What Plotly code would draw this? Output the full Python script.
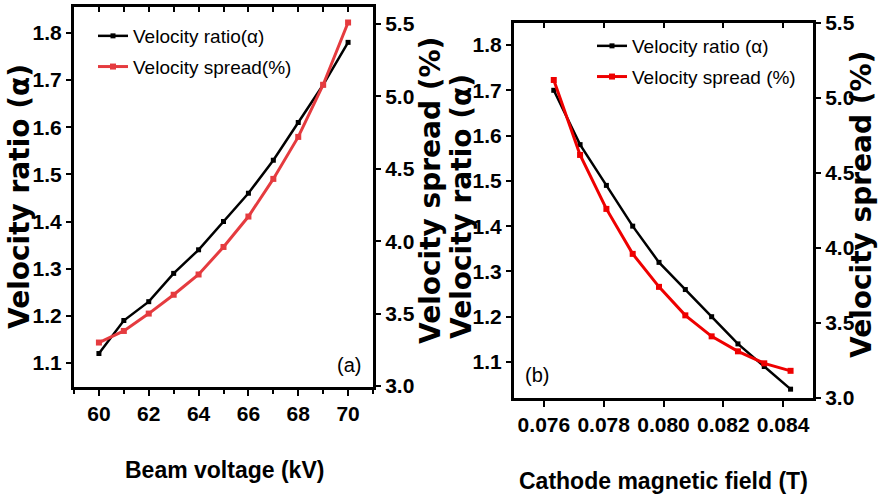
import plotly.graph_objects as go

# ---------------- data ----------------
beam_voltage_kv = [60, 61, 62, 63, 64, 65, 66, 67, 68, 69, 70]
alpha_a = [1.12, 1.19, 1.23, 1.29, 1.34, 1.40, 1.46, 1.53, 1.61, 1.69, 1.78]
spread_a = [3.30, 3.38, 3.50, 3.63, 3.77, 3.96, 4.17, 4.43, 4.72, 5.08, 5.51]

cathode_field_t = [0.07633, 0.07721, 0.07809, 0.07897, 0.07985,
                   0.08073, 0.08161, 0.08249, 0.08337, 0.08425]
alpha_b = [1.70, 1.58, 1.49, 1.40, 1.32, 1.26, 1.20, 1.14, 1.09, 1.04]
spread_b = [5.12, 4.62, 4.26, 3.96, 3.74, 3.55, 3.41, 3.31, 3.23, 3.18]

legend_a = ["Velocity ratio(α)", "Velocity spread(%)"]
legend_b = ["Velocity ratio (α)", "Velocity spread (%)"]
ytitle_left = "Velocity ratio (α)"
ytitle_right = "Velocity spread (%)"
xtitle_a = "Beam voltage (kV)"
xtitle_b = "Cathode magnetic field (T)"

# ---------------- style ----------------
W, H = 879, 501
SANS = "Liberation Sans, Arial, sans-serif"
WIDE = "DejaVu Sans, Liberation Sans, sans-serif"
RED_A = "#e53b3f"
RED_B = "#ee0000"
LW_AX = 3


def px(x):
    return x / W


def py(y):
    return 1 - y / H


dom_xa = [px(74), px(373)]
dom_ya = [py(387), py(7)]
dom_xb = [px(514), px(813)]
dom_yb = [py(398), py(23)]

fig = go.Figure()

# panel (a)
fig.add_trace(go.Scatter(x=beam_voltage_kv, y=alpha_a, name=legend_a[0],
                         mode="lines+markers", xaxis="x", yaxis="y",
                         line=dict(color="black", width=2.5),
                         marker=dict(symbol="square", size=5, color="black"),
                         legend="legend", legendgroup="a1"))
fig.add_trace(go.Scatter(x=beam_voltage_kv, y=spread_a, name=legend_a[1],
                         mode="lines+markers", xaxis="x", yaxis="y2",
                         line=dict(color=RED_A, width=3),
                         marker=dict(symbol="square", size=6, color=RED_A),
                         legend="legend", legendgroup="a2"))
# panel (b)
fig.add_trace(go.Scatter(x=cathode_field_t, y=alpha_b, name=legend_b[0],
                         mode="lines+markers", xaxis="x2", yaxis="y3",
                         line=dict(color="black", width=2.5),
                         marker=dict(symbol="square", size=5, color="black"),
                         legend="legend2", legendgroup="b1"))
fig.add_trace(go.Scatter(x=cathode_field_t, y=spread_b, name=legend_b[1],
                         mode="lines+markers", xaxis="x2", yaxis="y4",
                         line=dict(color=RED_B, width=3),
                         marker=dict(symbol="square", size=6, color=RED_B),
                         legend="legend2", legendgroup="b2"))
# dummy traces so the top frame axes exist
fig.add_trace(go.Scatter(x=[None], y=[None], xaxis="x3", yaxis="y",
                         showlegend=False, hoverinfo="skip"))
fig.add_trace(go.Scatter(x=[None], y=[None], xaxis="x4", yaxis="y3",
                         showlegend=False, hoverinfo="skip"))

tickfont = dict(family=SANS, size=21, color="black", weight="bold")
common = dict(showgrid=False, zeroline=False, showline=True, linecolor="black",
              linewidth=LW_AX, tickcolor="black", tickwidth=2, tickfont=tickfont,
              tickangle=0, automargin=False)

fig.update_layout(
    width=W, height=H,
    margin=dict(l=0, r=0, t=0, b=0, pad=0),
    paper_bgcolor="white", plot_bgcolor="white",
    # panel (a)
    xaxis=dict(domain=dom_xa, anchor="y", range=[59, 71], dtick=2, tick0=60,
               ticks="outside", ticklen=6,
               minor=dict(dtick=1, tick0=60, ticks="outside", ticklen=4,
                          tickcolor="black", tickwidth=2),
               **common),
    xaxis3=dict(overlaying="x", anchor="y", side="top", range=[59, 71],
                dtick=2, tick0=60, ticks="inside", ticklen=5, showticklabels=False,
                minor=dict(dtick=1, tick0=60, ticks="inside", ticklen=5,
                           tickcolor="black", tickwidth=2),
                **common),
    yaxis=dict(domain=dom_ya, anchor="x", range=[1.049, 1.855], dtick=0.1,
               tick0=1.1, tickformat=".1f", ticks="outside", ticklen=5, **common),
    yaxis2=dict(overlaying="y", anchor="x", side="right", range=[2.993, 5.617],
                dtick=0.5, tick0=3.0, tickformat=".1f", ticks="outside",
                ticklen=5, **common),
    # panel (b)
    xaxis2=dict(domain=dom_xb, anchor="y3", range=[0.075, 0.085], dtick=0.002,
                tick0=0.076, tickformat=".3f", ticks="outside", ticklen=6,
                **common),
    xaxis4=dict(overlaying="x2", anchor="y3", side="top", range=[0.075, 0.085],
                dtick=0.002, tick0=0.076, ticks="inside", ticklen=5,
                showticklabels=False, **common),
    yaxis3=dict(domain=dom_yb, anchor="x2", range=[1.0205, 1.8486], dtick=0.1,
                tick0=1.1, tickformat=".1f", ticks="outside", ticklen=5, **common),
    yaxis4=dict(overlaying="y3", anchor="x2", side="right", range=[2.9987, 5.5],
                dtick=0.5, tick0=3.0, tickformat=".1f", ticks="outside",
                ticklen=5, **common),
    legend=dict(x=px(93), y=py(17), xanchor="left", yanchor="top",
                bgcolor="rgba(0,0,0,0)", borderwidth=0, tracegroupgap=3,
                font=dict(family=SANS, size=19, color="black")),
    legend2=dict(x=px(592), y=py(27), xanchor="left", yanchor="top",
                 bgcolor="rgba(0,0,0,0)", borderwidth=0, tracegroupgap=3,
                 font=dict(family=SANS, size=19, color="black")),
)

ann_bold = dict(family=WIDE, size=28, color="black", weight="bold")
ann_x = dict(family=SANS, size=23, color="black", weight="bold")
annotations = [
    # y titles
    dict(text=ytitle_left, x=px(20), y=py(197), textangle=-90, font=ann_bold),
    dict(text=ytitle_right, x=px(430), y=py(191), textangle=-90, font=ann_bold),
    dict(text=ytitle_left, x=px(461), y=py(207), textangle=-90, font=ann_bold),
    dict(text=ytitle_right, x=px(862), y=py(205), textangle=-90, font=ann_bold),
    # x titles
    dict(text=xtitle_a, x=px(225), y=py(470), font=ann_x),
    dict(text=xtitle_b, x=px(663), y=py(481), font=ann_x),
    # panel labels
    dict(text="(a)", x=px(349), y=py(365), font=dict(family=SANS, size=20, color="black")),
    dict(text="(b)", x=px(537), y=py(375), font=dict(family=SANS, size=20, color="black")),
]
for a in annotations:
    a.update(xref="paper", yref="paper", showarrow=False,
             xanchor="center", yanchor="middle")
fig.update_layout(annotations=annotations)

fig.write_html("out.html")
